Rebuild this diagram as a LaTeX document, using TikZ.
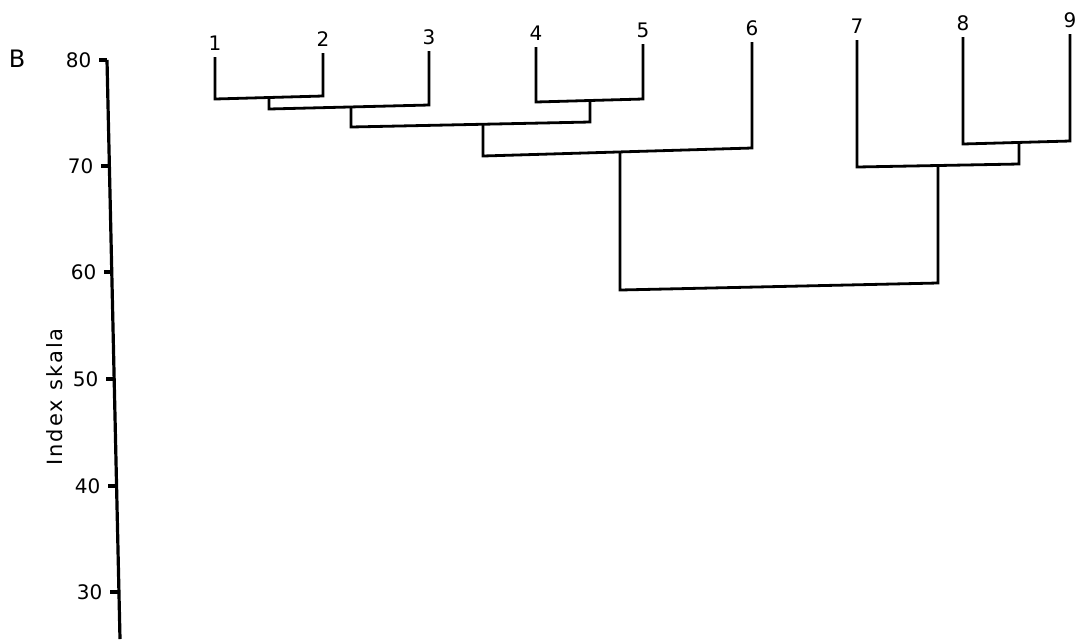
\documentclass[tikz,border=0pt]{standalone}
\usepackage{fontspec}
\setmainfont{DejaVu Sans}
\tikzset{
  tree/.style={line width=1.4pt, line join=miter},
  axisline/.style={line width=1.6pt},
  leaf/.style={anchor=south, inner sep=3pt, font=\fontsize{10}{12}\selectfont},
  ticklabel/.style={left, inner sep=3pt, font=\fontsize{10}{12}\selectfont}
}
\begin{document}
\begin{tikzpicture}[x=0.5pt,y=-0.5pt]
\useasboundingbox (0,0) rectangle (1082,639);
% axis with ticks
\draw[axisline] (107,60) -- (120,639);
\foreach \v/\x/\y in {80/107/60,70/109/166,60/112/272,50/114/379,40/116/486,30/118/592}
  \draw[axisline] (\x,\y) -- ++(-8,0) node[ticklabel] (tick\v) {\v};
\node[font=\fontsize{12}{14}\selectfont] (panel) at (17,59) {B};
\node[rotate=90, font=\fontsize{10.5}{12}\selectfont\addfontfeature{LetterSpace=10}] (ylabel) at (55,397) {Index skala};
% leaves
\foreach \i/\x/\y in {1/215/57,2/323/53,3/429/51,4/536/47,5/643/44,6/752/42,7/857/40,8/963/37,9/1070/34}
  \node[leaf] (l\i) at (\x,\y) {\i};
% brackets: child a, child b, foot heights, merge name and position
\foreach \a/\b/\ya/\yb/\m/\xm/\ym in {
    l1.south/l2.south/99/96/m12/269/97.5,
    m12/l3.south/109/105/m123/351/107,
    l4.south/l5.south/102/99/m45/590/100.5,
    m123/m45/127/122/m12345/483/124.5,
    m12345/l6.south/156/148/m16/620/152,
    l8.south/l9.south/144/141/m89/1019/142.5,
    l7.south/m89/167/164/m789/938/165,
    m16/m789/290/283/mall/780/286} {
  \coordinate (\m) at (\xm,\ym);
  \draw[tree] (\a) -- (\a |- 0,\ya) -- (\b |- 0,\yb) -- (\b);
}
\end{tikzpicture}
\end{document}
